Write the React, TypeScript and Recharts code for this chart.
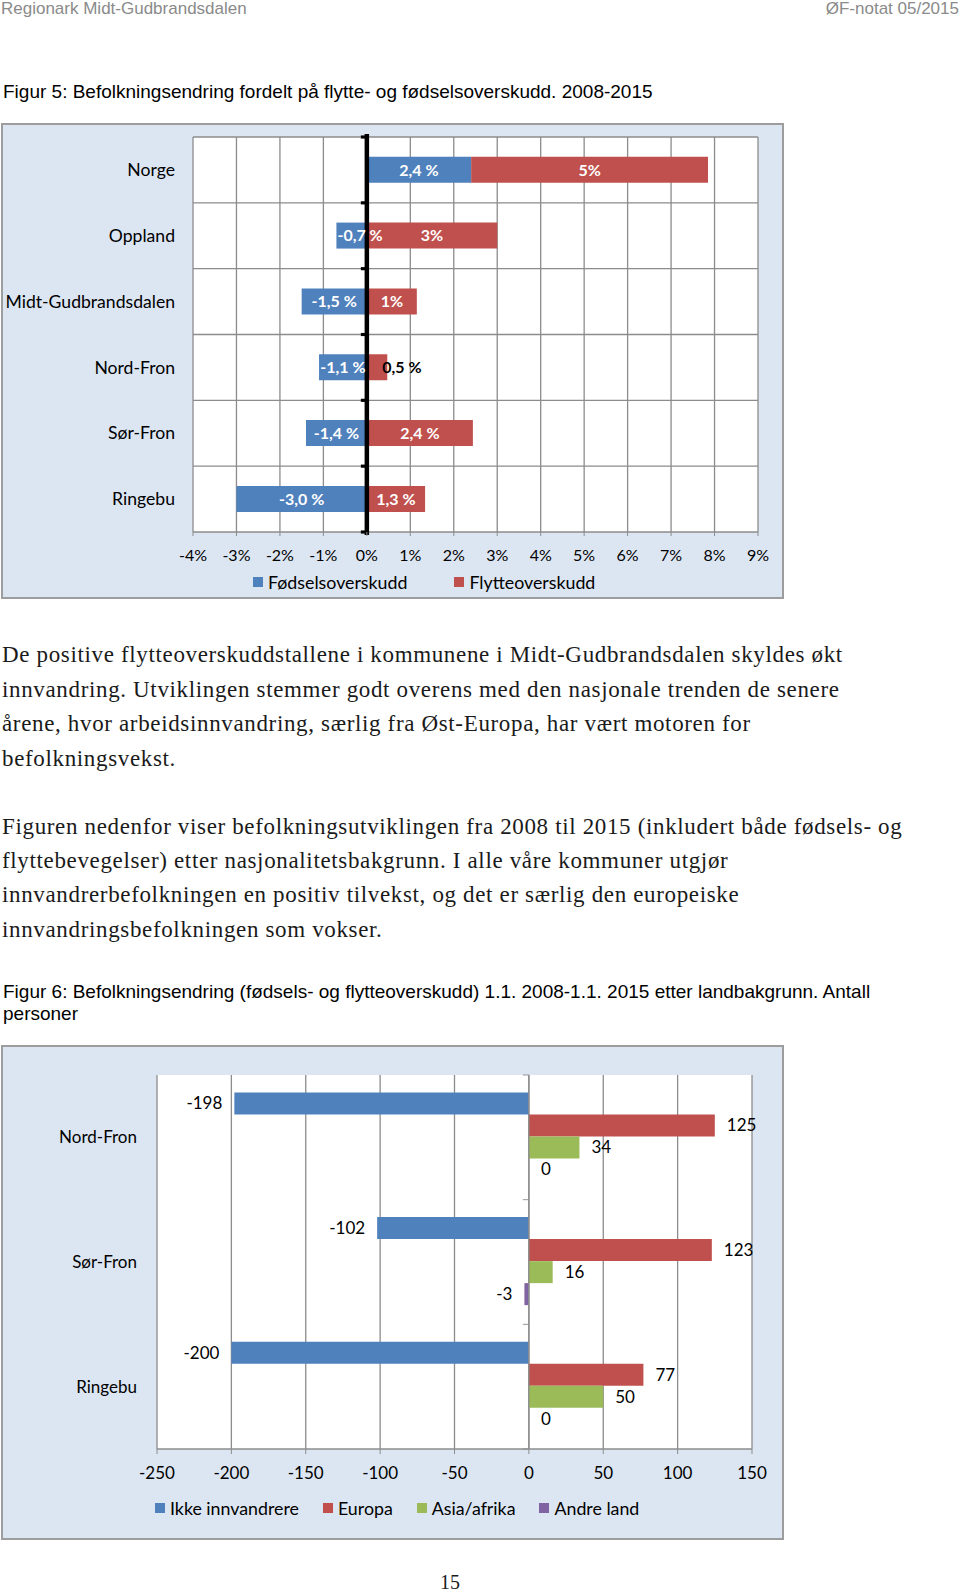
import React from "react";
import { BarChart, Bar, XAxis, YAxis, CartesianGrid, ReferenceLine, LabelList } from "recharts";

// Figur 5
const regions = ["Norge", "Oppland", "Midt-Gudbrandsdalen", "Nord-Fron", "Sør-Fron", "Ringebu"];
const fodsel = [2.4, -0.7, -1.5, -1.1, -1.4, -3.0];
const flytte = [5.45, 3.0, 1.15, 0.47, 2.44, 1.34];
const fodselLabels = ["2,4 %", "-0,7 %", "-1,5 %", "-1,1 %", "-1,4 %", "-3,0 %"];
const flytteLabels = ["5%", "3%", "1%", "0,5 %", "2,4 %", "1,3 %"];
const pctTicks = [-4, -3, -2, -1, 0, 1, 2, 3, 4, 5, 6, 7, 8, 9];

// Figur 6
const kommuner = ["Nord-Fron", "Sør-Fron", "Ringebu"];
const ikkeInnvandrere = [-198, -102, -200];
const europa = [125, 123, 77];
const asiaAfrika = [34, 16, 50];
const andreLand = [0, -3, 0];
const countTicks = [-250, -200, -150, -100, -50, 0, 50, 100, 150];

const BLUE = "#4f81bd";
const RED = "#c0504d";
const GREEN = "#9bbb59";
const PURPLE = "#8064a2";
const GRID = "#8c8c8c";

const fig5Series = [
  { key: "fodsel", label: "fodselLabel", name: "Fødselsoverskudd", color: BLUE },
  { key: "flytte", label: "flytteLabel", name: "Flytteoverskudd", color: RED },
];
const fig6Series = [
  { key: "ikke", name: "Ikke innvandrere", color: BLUE },
  { key: "europa", name: "Europa", color: RED },
  { key: "asia", name: "Asia/afrika", color: GREEN },
  { key: "andre", name: "Andre land", color: PURPLE },
];

const fig5Data = regions.map((name, i) => ({
  name,
  fodsel: fodsel[i],
  flytte: flytte[i],
  fodselLabel: fodselLabels[i],
  flytteLabel: flytteLabels[i],
}));

const fig6Data = kommuner.map((name, i) => ({
  name,
  ikke: ikkeInnvandrere[i],
  europa: europa[i],
  asia: asiaAfrika[i],
  andre: andreLand[i],
}));

// value axis line at 0 with small tick marks at the category borders
const spine = (n: number, color: string, w: number, tick: number, ext: number) => (p: any) => {
  const top = Math.min(p.y1, p.y2);
  const bot = Math.max(p.y1, p.y2);
  const marks = Array.from({ length: n + 1 }, (_, i) => top + (i * (bot - top)) / n);
  return (
    <g>
      <line x1={p.x1} x2={p.x1} y1={top - ext} y2={bot + ext} stroke={color} strokeWidth={w} />
      {marks.map((m, i) => (
        <line key={i} x1={p.x1 - tick} x2={p.x1} y1={m} y2={m} stroke={color} strokeWidth={w * 0.7} />
      ))}
    </g>
  );
};

const insideLabel = (props: any) => {
  const vb = props.viewBox || {};
  const x = vb.x ?? props.x;
  const y = vb.y ?? props.y;
  const w = vb.width ?? props.width;
  const h = vb.height ?? props.height;
  const text = String(props.value);
  const small = Math.abs(w) < 25;
  const tooWide = text.length * 7.6 > Math.abs(w) + 4;
  let tx = x + w / 2;
  let anchor = "middle";
  if (small) {
    tx = x + w - 5;
    anchor = "start";
  } else if (tooWide) {
    tx = Math.min(x, x + w) + 1;
    anchor = "start";
  }
  return (
    <text
      x={tx}
      y={y + h / 2}
      dy="0.36em"
      textAnchor={anchor}
      fill={small ? "#000" : "#fff"}
      fontWeight={700}
      fontSize={16}
    >
      {text}
    </text>
  );
};

const abs = (left: number, top: number, extra: React.CSSProperties = {}): React.CSSProperties => ({
  position: "absolute",
  left,
  top,
  whiteSpace: "nowrap",
  ...extra,
});

const serif: React.CSSProperties = {
  fontFamily: "'Liberation Serif', serif",
  fontSize: 23,
  letterSpacing: 0.65,
  lineHeight: "26px",
  color: "#1a1a1a",
};
const sans: React.CSSProperties = { fontFamily: "'Liberation Sans', Arial, sans-serif", fontSize: 19, lineHeight: "22px", color: "#000" };

const para1 = [
  "De positive flytteoverskuddstallene i kommunene i Midt-Gudbrandsdalen skyldes økt",
  "innvandring. Utviklingen stemmer godt overens med den nasjonale trenden de senere",
  "årene, hvor arbeidsinnvandring, særlig fra Øst-Europa, har vært motoren for",
  "befolkningsvekst.",
];
const para1Y = [655, 689.5, 724, 758.5];
const para2 = [
  "Figuren nedenfor viser befolkningsutviklingen fra 2008 til 2015 (inkludert både fødsels- og",
  "flyttebevegelser) etter nasjonalitetsbakgrunn. I alle våre kommuner utgjør",
  "innvandrerbefolkningen en positiv tilvekst, og det er særlig den europeiske",
  "innvandringsbefolkningen som vokser.",
];
const para2Y = [827, 861, 895, 929.5];

const LegendRow = ({ items, left, top, gap }: { items: { name: string; color: string }[]; left: number; top: number; gap: number }) => (
  <div style={abs(left, top, { display: "flex", gap, fontFamily: "Lato, sans-serif", fontSize: 17.8, lineHeight: "18px", color: "#000" })}>
    {items.map((s) => (
      <div key={s.name} style={{ display: "flex", alignItems: "center" }}>
        <span style={{ width: 10, height: 10, background: s.color, marginRight: 5, display: "inline-block" }} />
        {s.name}
      </div>
    ))}
  </div>
);

const frame: React.CSSProperties = {
  position: "absolute",
  background: "#dce6f2",
  border: "2px solid #9d9d9d",
  boxSizing: "border-box",
};

export default function App() {
  return (
    <div style={{ position: "absolute", left: 0, top: 0, width: 960, height: 1595, background: "#fff", overflow: "hidden" }}>
      <div style={abs(1, -1.5, { ...sans, fontSize: 17, lineHeight: "19px", color: "#8a8a8a" })}>Regionark Midt-Gudbrandsdalen</div>
      <div style={abs(0, -1.5, { ...sans, fontSize: 17, lineHeight: "19px", color: "#8a8a8a", width: 959, textAlign: "right" })}>ØF-notat 05/2015</div>

      <div style={abs(3, 80.5, sans)}>Figur 5: Befolkningsendring fordelt på flytte- og fødselsoverskudd. 2008-2015</div>

      <div style={{ ...frame, left: 1, top: 123, width: 783, height: 476 }}>
        <BarChart
          width={779}
          height={472}
          data={fig5Data}
          layout="vertical"
          stackOffset="sign"
          barCategoryGap="30%"
          margin={{ top: 12, right: 24, left: 0, bottom: 35 }}
          style={{ fontFamily: "Lato, sans-serif" }}
        >
          <CartesianGrid
            stroke={GRID}
            strokeWidth={1.3}
            fill="#fff"
            horizontalCoordinatesGenerator={({ offset }: any) =>
              Array.from({ length: regions.length + 1 }, (_, i) => offset.top + (i * offset.height) / regions.length)
            }
          />
          <XAxis
            type="number"
            domain={[-4, 9]}
            ticks={pctTicks}
            tickFormatter={(v: number) => `${v}%`}
            axisLine={false}
            tickLine={{ stroke: GRID }}
            tickSize={4}
            tickMargin={14}
            height={30}
            tick={{ fill: "#000", fontSize: 16 }}
            interval={0}
          />
          <YAxis
            type="category"
            dataKey="name"
            width={190}
            axisLine={false}
            tickLine={false}
            tickSize={0}
            tickMargin={18}
            tick={{ fill: "#000", fontSize: 17.6 }}
            interval={0}
          />
          {fig5Series.map((s) => (
            <Bar key={s.key} dataKey={s.key} name={s.name} stackId="a" fill={s.color} isAnimationActive={false}>
              <LabelList dataKey={s.label} content={insideLabel} />
            </Bar>
          ))}
          <ReferenceLine x={0} stroke="#000" shape={spine(regions.length, "#000", 4.5, 6, 3)} />
        </BarChart>
      </div>
      <LegendRow items={fig5Series} left={253} top={573} gap={47} />

      {para1.map((t, i) => (
        <div key={t} style={abs(2, para1Y[i] - 13, serif)}>{t}</div>
      ))}
      {para2.map((t, i) => (
        <div key={t} style={abs(2, para2Y[i] - 13, serif)}>{t}</div>
      ))}

      <div style={abs(3, 981, sans)}>
        Figur 6: Befolkningsendring (fødsels- og flytteoverskudd) 1.1. 2008-1.1. 2015 etter landbakgrunn. Antall
      </div>
      <div style={abs(3, 1003, sans)}>personer</div>

      <div style={{ ...frame, left: 1, top: 1045, width: 783, height: 495 }}>
        <BarChart
          width={779}
          height={491}
          data={fig6Data}
          layout="vertical"
          barCategoryGap="14%"
          barGap={0}
          margin={{ top: 28, right: 30, left: 0, bottom: 59 }}
          style={{ fontFamily: "Lato, sans-serif" }}
        >
          <CartesianGrid stroke={GRID} strokeWidth={1.3} fill="#fff" horizontal={false} />
          <XAxis
            type="number"
            domain={[-250, 150]}
            ticks={countTicks}
            axisLine={{ stroke: GRID, strokeWidth: 1.5 }}
            tickLine={{ stroke: GRID }}
            tickSize={5}
            tickMargin={13}
            height={30}
            tick={{ fill: "#000", fontSize: 17 }}
            interval={0}
          />
          <YAxis
            type="category"
            dataKey="name"
            width={154}
            axisLine={false}
            tickLine={false}
            tickSize={0}
            tickMargin={20}
            tick={{ fill: "#000", fontSize: 17 }}
            interval={0}
          />
          {fig6Series.map((s) => (
            <Bar key={s.key} dataKey={s.key} name={s.name} fill={s.color} minPointSize={0.01} isAnimationActive={false}>
              <LabelList dataKey={s.key} position="right" offset={12} fill="#000" fontSize={17} />
            </Bar>
          ))}
          <ReferenceLine x={0} stroke={GRID} shape={spine(kommuner.length, GRID, 1.3, 6, 0)} />
        </BarChart>
      </div>
      <LegendRow items={fig6Series} left={155} top={1499} gap={24} />

      <div style={abs(420, 1570, { ...serif, fontSize: 20, letterSpacing: 0, lineHeight: "24px", width: 60, textAlign: "center" })}>15</div>
    </div>
  );
}
